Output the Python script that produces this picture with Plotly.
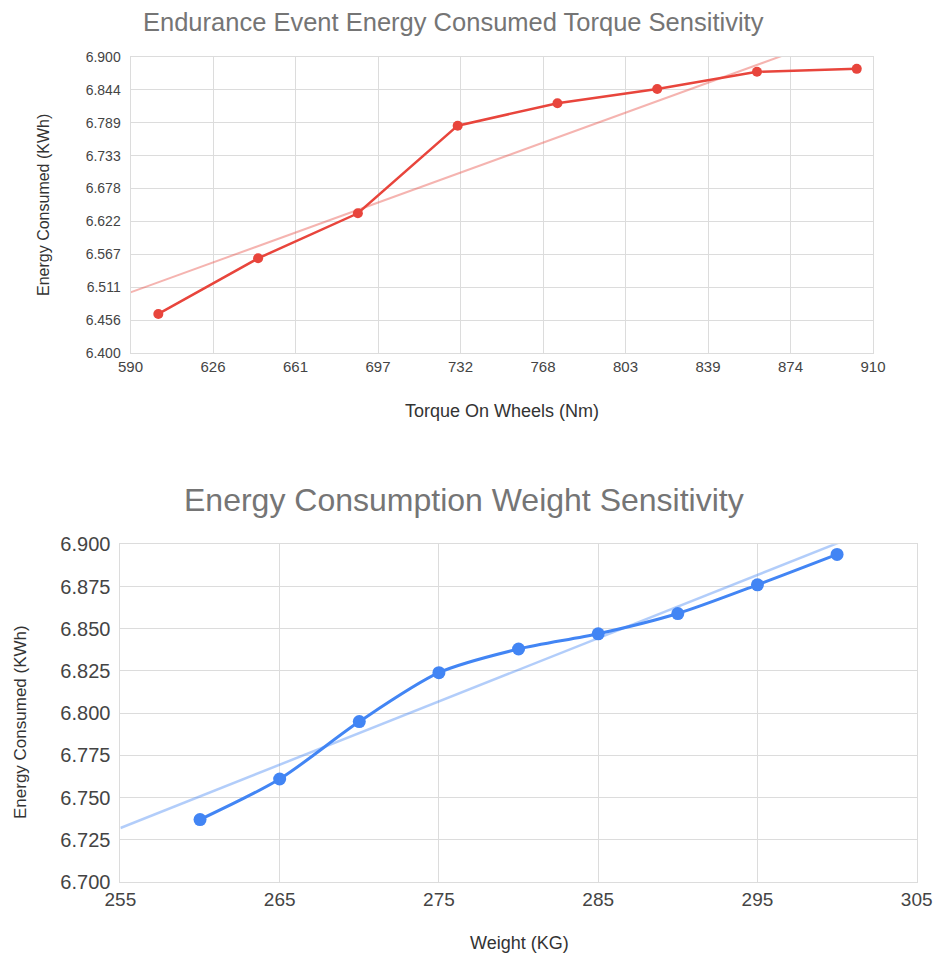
import numpy as np
import plotly.graph_objects as go

# ---------------- data ----------------
torque_nm = [602, 645, 688, 731, 774, 817, 860, 903]
torque_energy_kwh = [6.466, 6.560, 6.636, 6.784, 6.822, 6.846, 6.875, 6.880]
torque_tick_labels = ["590", "626", "661", "697", "732", "768", "803", "839", "874", "910"]
torque_energy_tick_labels = ["6.400", "6.456", "6.511", "6.567", "6.622", "6.678",
                             "6.733", "6.789", "6.844", "6.900"]

weight_kg = [260, 265, 270, 275, 280, 285, 290, 295, 300]
weight_energy_kwh = [6.737, 6.761, 6.795, 6.824, 6.838, 6.847, 6.859, 6.876, 6.894]
weight_tick_labels = ["255", "265", "275", "285", "295", "305"]
weight_energy_tick_labels = ["6.700", "6.725", "6.750", "6.775", "6.800",
                             "6.825", "6.850", "6.875", "6.900"]

# ---------------- styling ----------------
W, H = 936, 954
FONT = "Arial, Liberation Sans, sans-serif"
RED = "#e8453c"
BLUE = "#4285f4"
GRID = "#dcdcdc"
TICK = "#444444"
TITLE = "#757575"

def px_x(p):
    return p / W

def px_y(p):
    return 1 - p / H

# trendlines (linear least squares)
tr_fit = np.polyfit(torque_nm, torque_energy_kwh, 1)
tr_x = np.array([590, 910])
tr_y = np.polyval(tr_fit, tr_x)
wt_fit = np.polyfit(weight_kg, weight_energy_kwh, 1)
wt_x = np.array([255, 305])
wt_y = np.polyval(wt_fit, wt_x)

fig = go.Figure()

fig.add_trace(go.Scatter(x=tr_x, y=tr_y, mode="lines",
                         line=dict(color=RED, width=2), opacity=0.4,
                         xaxis="x", yaxis="y", showlegend=False, hoverinfo="skip"))
fig.add_trace(go.Scatter(x=torque_nm, y=torque_energy_kwh, mode="lines+markers",
                         line=dict(color=RED, width=2.5),
                         marker=dict(color=RED, size=10),
                         xaxis="x", yaxis="y", showlegend=False, cliponaxis=False))

fig.add_trace(go.Scatter(x=wt_x, y=wt_y, mode="lines",
                         line=dict(color=BLUE, width=2.5), opacity=0.4,
                         xaxis="x2", yaxis="y2", showlegend=False, hoverinfo="skip"))
fig.add_trace(go.Scatter(x=weight_kg, y=weight_energy_kwh, mode="lines+markers",
                         line=dict(color=BLUE, width=3, shape="spline", smoothing=0.8),
                         marker=dict(color=BLUE, size=13),
                         xaxis="x2", yaxis="y2", showlegend=False, cliponaxis=False))

top_xvals = np.linspace(590, 910, len(torque_tick_labels))
top_yvals = np.linspace(6.4, 6.9, len(torque_energy_tick_labels))
bot_xvals = np.linspace(255, 305, len(weight_tick_labels))
bot_yvals = np.linspace(6.7, 6.9, len(weight_energy_tick_labels))

common_axis = dict(showgrid=True, gridcolor=GRID, gridwidth=1, zeroline=False,
                   showline=True, linecolor=GRID, linewidth=1, mirror=True,
                   ticks="", fixedrange=True, automargin=False)

fig.update_layout(
    width=W, height=H,
    margin=dict(l=0, r=0, t=0, b=0, pad=0, autoexpand=False),
    paper_bgcolor="white", plot_bgcolor="white",
    font=dict(family=FONT, color=TICK),
    xaxis=dict(domain=[px_x(130.5), px_x(873)], anchor="y", range=[590, 910],
               tickvals=top_xvals, ticktext=torque_tick_labels,
               tickfont=dict(size=15, color=TICK), **common_axis),
    yaxis=dict(domain=[px_y(353), px_y(57)], anchor="x", range=[6.4, 6.9],
               tickvals=top_yvals, ticktext=torque_energy_tick_labels,
               ticklabelstandoff=6,
               tickfont=dict(size=14, color=TICK), **common_axis),
    xaxis2=dict(domain=[px_x(120.4), px_x(916.7)], anchor="y2", range=[255, 305],
                tickvals=bot_xvals, ticktext=weight_tick_labels,
                tickfont=dict(size=19, color=TICK), **common_axis),
    yaxis2=dict(domain=[px_y(882), px_y(544.3)], anchor="x2", range=[6.7, 6.9],
                tickvals=bot_yvals, ticktext=weight_energy_tick_labels,
                ticklabelstandoff=5,
                tickfont=dict(size=20, color=TICK), **common_axis),
)

annotations = [
    dict(text="Endurance Event Energy Consumed Torque Sensitivity",
         x=px_x(453), y=px_y(22), font=dict(size=25.5, color=TITLE)),
    dict(text="Torque On Wheels (Nm)", x=px_x(502), y=px_y(411),
         font=dict(size=18, color="#333333")),
    dict(text="Energy Consumed (KWh)", x=px_x(43), y=px_y(205), textangle=-90,
         font=dict(size=16, color="#333333")),
    dict(text="Energy Consumption Weight Sensitivity",
         x=px_x(464), y=px_y(500), font=dict(size=32, color=TITLE)),
    dict(text="Weight (KG)", x=px_x(519), y=px_y(943),
         font=dict(size=18, color="#333333")),
    dict(text="Energy Consumed (KWh)", x=px_x(20), y=px_y(722), textangle=-90,
         font=dict(size=17, color="#333333")),
]
for a in annotations:
    a.update(xref="paper", yref="paper", showarrow=False,
             xanchor="center", yanchor="middle", font=dict(family=FONT, **a["font"]))
fig.update_layout(annotations=annotations)

fig.write_html("out.html")
